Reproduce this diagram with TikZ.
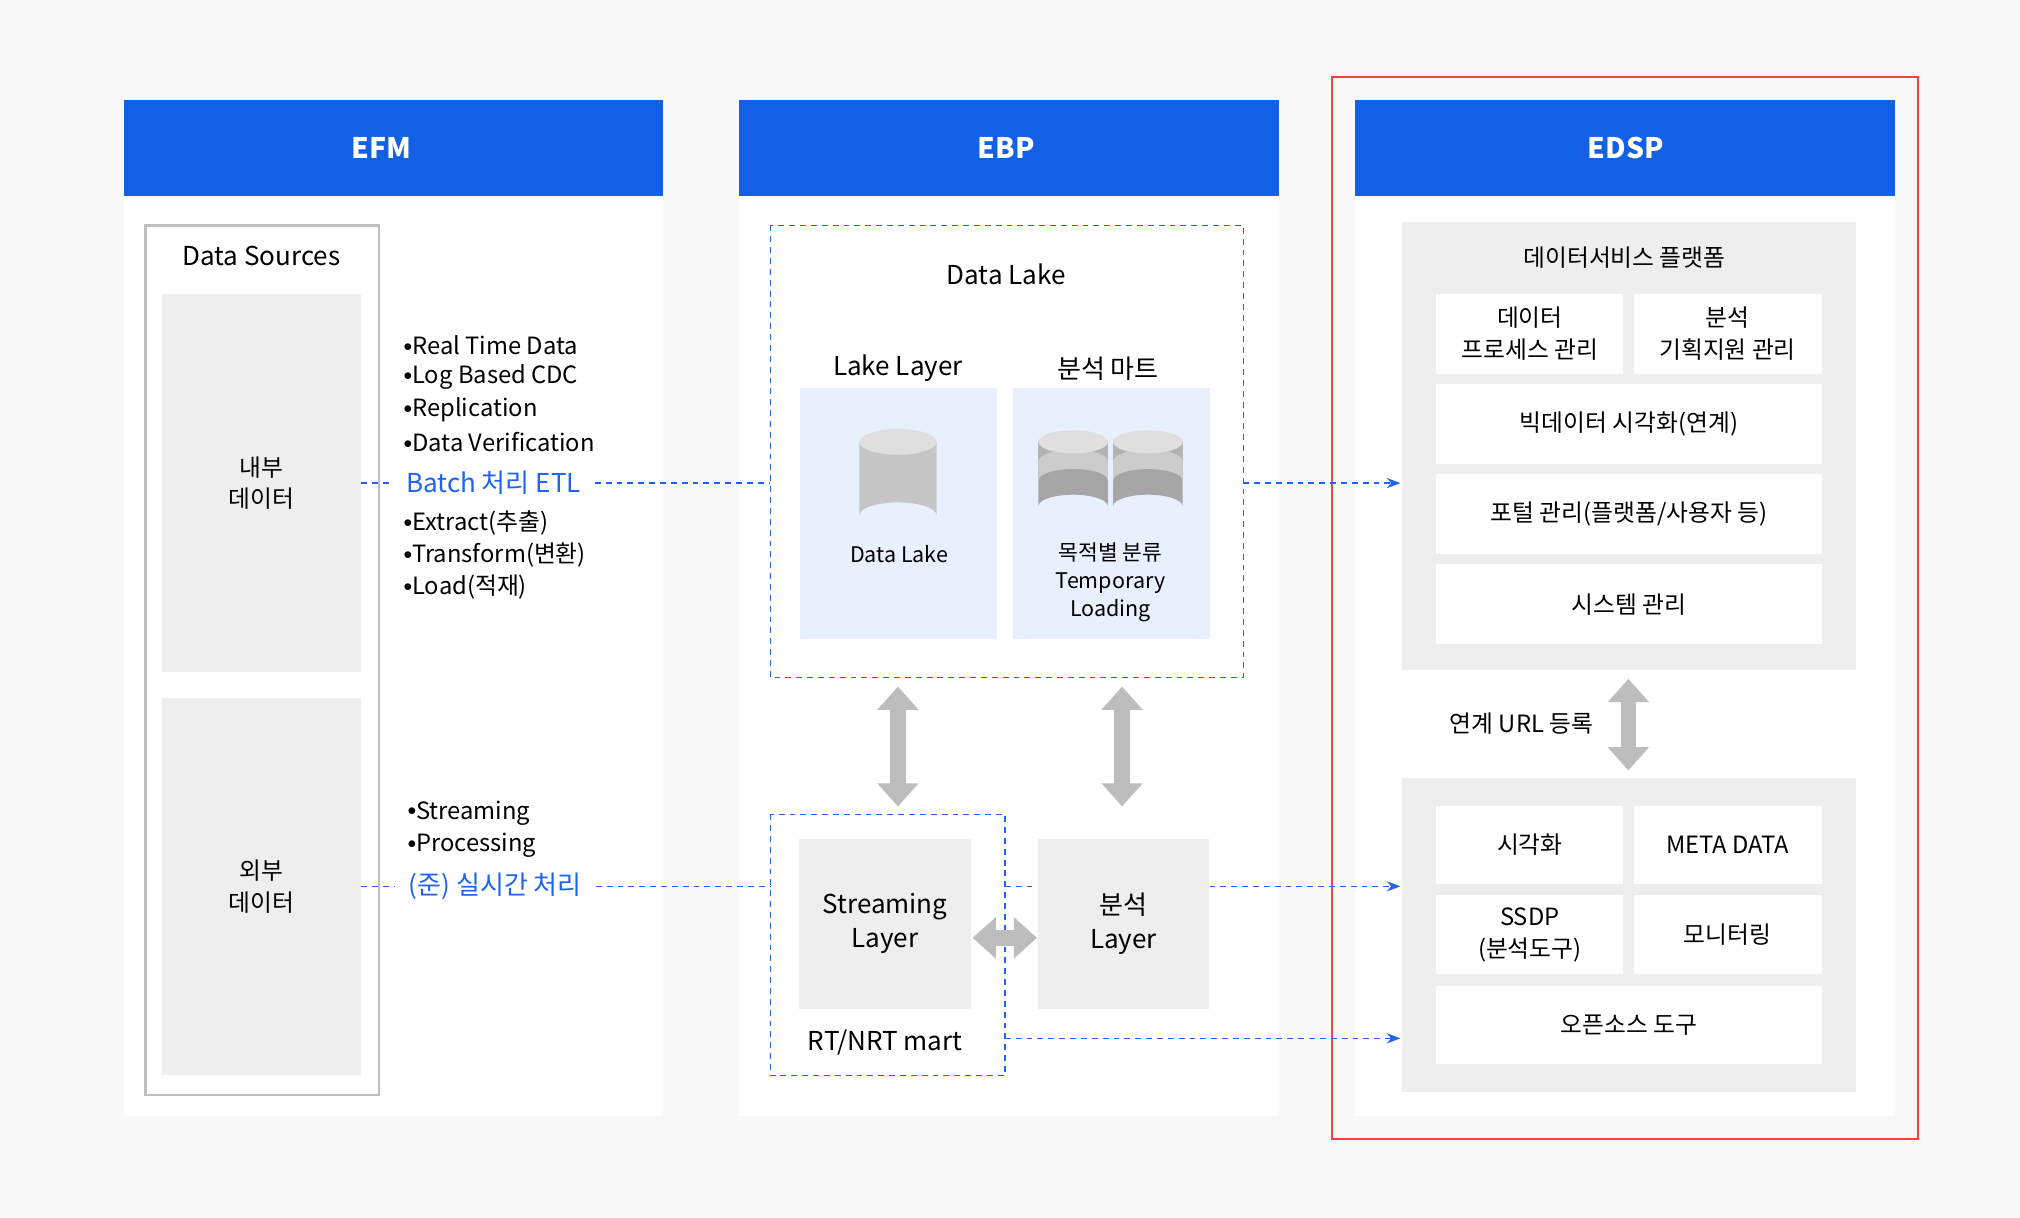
\documentclass[tikz,border=0pt]{standalone}
\usepackage{fontspec}
\setmainfont{Noto Sans CJK KR}
\usetikzlibrary{arrows.meta}
\definecolor{hdblue}{HTML}{1160E6}
\definecolor{lnblue}{HTML}{1E64F0}
\definecolor{bggray}{HTML}{F8F8F8}
\definecolor{pnlgray}{HTML}{EEEEEE}
\definecolor{lakeblue}{HTML}{E8F0FE}
\definecolor{arrgray}{HTML}{BDBDBD}
\tikzset{
  hd/.style={fill=hdblue, text=white, font=\fontsize{12.5}{14}\selectfont\bfseries, inner sep=0pt},
  gbox/.style={fill=pnlgray, inner sep=0pt, align=center},
  wbox/.style={fill=white, inner sep=0pt, align=center},
  txt/.style={inner sep=0pt, align=center, font=\fontsize{10.5}{14}\selectfont},
  lst/.style={inner sep=0pt, anchor=west, font=\fontsize{10.5}{14}\selectfont},
  flow/.style={dash pattern=on 2.6pt off 2.2pt, lnblue, line width=0.6pt},
  dbl/.style={arrgray, line width=0.24cm, {Triangle[width=0.62cm,length=0.36cm]}-{Triangle[width=0.62cm,length=0.36cm]}}
}
\newcommand{\cyl}[4]{% x, top y, bottom y, colour
  \fill[#4] (#1-30,#2) -- (#1-30,#3) arc[start angle=180,end angle=360,x radius=30,y radius=10] -- (#1+30,#2) -- cycle;
}
\newcommand{\dt}{\raisebox{0.25ex}{\scalebox{0.7}{$\bullet$}}}
\begin{document}
\begin{tikzpicture}[x=0.02cm, y=-0.02cm, every node/.append style={font=\fontsize{10.5}{14}\selectfont}]
\useasboundingbox (0,0) rectangle (1568,945);
\fill[bggray] (0,0) rectangle (1568,945);
% columns
\foreach \x/\n/\tx in {96/EFM/296, 574/EBP/781, 1052/EDSP/1262} {
  \fill[white] (\x,78) rectangle (\x+419,866);
  \fill[hdblue] (\x,78) rectangle (\x+419,152);
  \node[hd] (\n) at (\tx,115) {\n};
}
\draw[red!75!white, line width=0.8pt] (1034,60) rectangle (1489,884);

% EFM
\draw[gray!50, line width=1pt] (113,175) rectangle (294,850);
\node[txt, font=\fontsize{11.5}{14}\selectfont] (src) at (203,199) {Data Sources};
\node[gbox, minimum width=154*0.02cm, minimum height=294*0.02cm] (inner) at (203,375) {};
\node[txt] at (inner) {내부\\데이터};
\node[gbox, minimum width=154*0.02cm, minimum height=293*0.02cm] (outer) at (203,688) {};
\node[txt] at (outer) {외부\\데이터};
\foreach \t [count=\i from 0] in {Real Time Data, Log Based CDC, Replication, Data Verification}
  \node[lst] at (313,268+25*\i) {\dt\t};
\node[lst, text=lnblue, font=\fontsize{11.5}{14}\selectfont] (batch) at (315,375) {Batch 처리 ETL};
\foreach \t [count=\i from 0] in {Extract(추출), Transform(변환), Load(적재)}
  \node[lst] at (313,406+25*\i) {\dt\t};
\node[lst] at (316,631) {\dt Streaming};
\node[lst] at (316,656) {\dt Processing};
\node[lst, text=lnblue, font=\fontsize{11.5}{14}\selectfont] (rt) at (317,688) {(준) 실시간 처리};

% EBP
\draw[flow] (598,175) rectangle (965,526);
\node[txt, font=\fontsize{11.5}{14}\selectfont] at (781,213) {Data Lake};
\node[txt, font=\fontsize{11.5}{14}\selectfont] at (697,286) {Lake Layer};
\node[txt, font=\fontsize{11.5}{14}\selectfont] at (860,286) {분석 마트};
\fill[lakeblue] (621,301) rectangle (774,496);
\fill[lakeblue] (786,301) rectangle (939,496);
\cyl{697}{343}{400}{gray!45}
\fill[gray!25] (697,343) ellipse[x radius=30, y radius=10];
\foreach \cx in {833,891} {
  \fill[gray!70] (\cx-27,343) -- (\cx-27,393) arc[start angle=180,end angle=360,x radius=27,y radius=9] -- (\cx+27,343) -- cycle;
  \fill[gray!40] (\cx-27,343) -- (\cx-27,373) arc[start angle=180,end angle=360,x radius=27,y radius=9] -- (\cx+27,343) -- cycle;
  \fill[gray!60] (\cx-27,343) -- (\cx-27,358) arc[start angle=180,end angle=360,x radius=27,y radius=9] -- (\cx+27,343) -- cycle;
  \fill[gray!25] (\cx,343) ellipse[x radius=27, y radius=9];
}
\node[txt, font=\fontsize{9.5}{12}\selectfont] at (698,430) {Data Lake};
\node[txt, font=\fontsize{9.5}{12.5}\selectfont] at (862,452) {목적별 분류\\Temporary\\Loading};
\draw[flow] (598,632) rectangle (780,835);
\node[gbox, minimum width=133*0.02cm, minimum height=132*0.02cm, font=\fontsize{11.5}{15}\selectfont] (stream) at (687,717) {Streaming\\Layer};
\node[gbox, minimum width=133*0.02cm, minimum height=132*0.02cm, font=\fontsize{11.5}{15}\selectfont] (anl) at (872,717) {분석\\Layer};
\node[txt, font=\fontsize{11.5}{14}\selectfont] at (687,809) {RT/NRT mart};
\draw[dbl] (697,533) -- (697,626);
\draw[dbl] (871,533) -- (871,626);
\draw[dbl] (755,728) -- (805,728);

% EDSP
\fill[pnlgray] (1088,172) rectangle (1441,520);
\node[txt] at (1261,200) {데이터서비스 플랫폼};
\node[wbox, minimum width=145*0.02cm, minimum height=62*0.02cm] (dp) at (1187.5,259) {데이터\\프로세스 관리};
\node[wbox, minimum width=146*0.02cm, minimum height=62*0.02cm] (pl) at (1341,259) {분석\\기획지원 관리};
\node[wbox, minimum width=299*0.02cm, minimum height=62*0.02cm] (viz) at (1264.5,329) {빅데이터 시각화(연계)};
\node[wbox, minimum width=299*0.02cm, minimum height=62*0.02cm] (portal) at (1264.5,399) {포털 관리(플랫폼/사용자 등)};
\node[wbox, minimum width=299*0.02cm, minimum height=62*0.02cm] (sys) at (1264.5,469) {시스템 관리};
\node[txt] at (1181,562) {연계 URL 등록};
\draw[dbl] (1264,527) -- (1264,598);
\fill[pnlgray] (1088,604) rectangle (1441,848);
\node[wbox, minimum width=145*0.02cm, minimum height=61*0.02cm] (vz) at (1187.5,656) {시각화};
\node[wbox, minimum width=146*0.02cm, minimum height=61*0.02cm] (meta) at (1341,656) {META DATA};
\node[wbox, minimum width=145*0.02cm, minimum height=61*0.02cm] (ssdp) at (1187.5,725.5) {SSDP\\(분석도구)};
\node[wbox, minimum width=146*0.02cm, minimum height=61*0.02cm] (mon) at (1341,725.5) {모니터링};
\node[wbox, minimum width=299*0.02cm, minimum height=61*0.02cm] (oss) at (1264.5,795.5) {오픈소스 도구};
\coordinate (t1) at (1087,375);
\coordinate (t2) at (1087,688);
\coordinate (t3) at (1087,806);

% flows
\draw[flow, shorten >=6pt] (inner.east) -- (batch.west);
\draw[flow, shorten <=6pt] (batch.east) -- (598,375);
\draw[flow, -{Stealth[length=6pt]}] (965,375) -- (t1);
\draw[flow, shorten >=6pt] (outer.east) -- (rt.west);
\draw[flow, shorten <=6pt] (rt.east) -- (598,688);
\draw[flow] (780,688) -- (anl.west |- 0,688);
\draw[flow, -{Stealth[length=6pt]}] (anl.east |- 0,688) -- (t2);
\draw[flow, -{Stealth[length=6pt]}] (780,806) -- (t3);
\end{tikzpicture}
\end{document}
